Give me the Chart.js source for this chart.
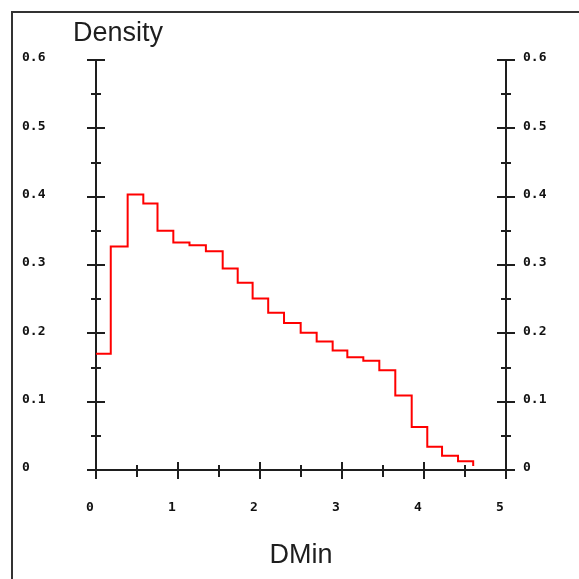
<!DOCTYPE html>
<html>
<head>
<meta charset="utf-8">
<script src="https://cdn.jsdelivr.net/npm/chart.js@4"></script>
<style>
  html, body { margin: 0; padding: 0; background: #fff; }
  #wrap { width: 579px; height: 579px; }
</style>
</head>
<body>
<div id="wrap"><canvas id="c" width="579" height="579"></canvas></div>
<script>
// DMin histogram: left edge of each bin and its density
const binEdges = [0, 0.18, 0.386, 0.577, 0.75, 0.943, 1.14, 1.34, 1.545, 1.728, 1.91,
                  2.1, 2.293, 2.496, 2.691, 2.886, 3.065, 3.26, 3.455, 3.65, 3.85,
                  4.04, 4.22, 4.415, 4.60];
const density = [0.17, 0.327, 0.403, 0.39, 0.35, 0.333, 0.329, 0.32, 0.295, 0.274,
                 0.251, 0.230, 0.215, 0.201, 0.188, 0.175, 0.165, 0.160, 0.146, 0.109,
                 0.063, 0.034, 0.021, 0.0127];
const endValue = 0.006;   // where the outline stops after the last bin

const xTickLabels = ['0', '1', '2', '3', '4', '5'];
const yTickLabels = ['0', '0.1', '0.2', '0.3', '0.4', '0.5', '0.6'];

const axisColor = '#1e1e1e';
const tickFont = { family: 'DejaVu Sans Mono', size: 13, weight: 'bold' };
const titleFont = { family: 'Liberation Sans', size: 27 };

// outline points: each bin starts at its left edge; the final point closes the last bin
const points = density.map((d, i) => ({ x: binEdges[i], y: d }));
points.push({ x: binEdges[binEdges.length - 1], y: endValue });

const isMajorY = v => Math.abs(v * 10 - Math.round(v * 10)) < 1e-6;
const isMajorX = v => Math.abs(v - Math.round(v)) < 1e-6;

// tick marks that cross the axis lines (long at labelled values, short in between)
const crossTicks = {
  id: 'crossTicks',
  afterDraw(chart) {
    const { ctx } = chart;
    const { x, y } = chart.scales;
    ctx.save();
    ctx.strokeStyle = axisColor;
    ctx.lineWidth = 2;
    ctx.beginPath();
    for (const t of y.ticks) {
      const py = Math.round(y.getPixelForValue(t.value));
      const h = isMajorY(t.value) ? 9 : 5;
      for (const px of [chart.chartArea.left, chart.chartArea.right]) {
        ctx.moveTo(px - h, py);
        ctx.lineTo(px + h, py);
      }
    }
    for (const t of x.ticks) {
      const px = Math.round(x.getPixelForValue(t.value));
      const py = chart.chartArea.bottom;
      const major = isMajorX(t.value);
      ctx.moveTo(px, py - (major ? 8 : 5));
      ctx.lineTo(px, py + (major ? 9 : 7));
    }
    ctx.stroke();
    ctx.restore();
  }
};

// outer frame and the "Density" heading above the left axis
const frame = {
  id: 'frame',
  beforeDraw(chart) {
    const { ctx } = chart;
    ctx.save();
    ctx.fillStyle = '#fff';
    ctx.fillRect(0, 0, chart.width, chart.height);
    ctx.strokeStyle = '#333';
    ctx.lineWidth = 2;
    ctx.strokeRect(12, 12, chart.width + 40, chart.height + 40);
    ctx.restore();
  },
  afterDraw(chart) {
    const { ctx } = chart;
    ctx.save();
    ctx.fillStyle = axisColor;
    ctx.font = `${titleFont.size}px "${titleFont.family}"`;
    ctx.textBaseline = 'alphabetic';
    ctx.textAlign = 'left';
    ctx.fillText('Density', chart.chartArea.left - 23, 41);
    ctx.restore();
  }
};

new Chart(document.getElementById('c'), {
  type: 'line',
  data: {
    datasets: [{
      data: points,
      borderColor: '#ff0000',
      borderWidth: 2,
      pointRadius: 0,
      fill: false,
      stepped: 'before',
      tension: 0
    }]
  },
  options: {
    responsive: false,
    animation: false,
    layout: { padding: { left: 22, top: 60, right: 0, bottom: 0 } },
    plugins: { legend: { display: false }, tooltip: { enabled: false } },
    scales: {
      x: {
        type: 'linear',
        position: 'bottom',
        min: 0, max: 5,
        grid: { display: false, drawTicks: false },
        border: { display: true, color: axisColor, width: 2 },
        ticks: {
          stepSize: 0.5,
          autoSkip: false,
          maxRotation: 0,
          padding: 30,
          labelOffset: -6,
          color: '#111',
          font: tickFont,
          callback: v => isMajorX(v) ? xTickLabels[Math.round(v)] : ''
        },
        title: {
          display: true,
          text: 'DMin',
          color: axisColor,
          font: titleFont,
          padding: { top: 0, bottom: 7 }
        },
        afterFit: s => { s.height = 109; }
      },
      y: {
        type: 'linear',
        position: 'left',
        min: 0, max: 0.6,
        grid: { display: false, drawTicks: false },
        border: { display: true, color: axisColor, width: 2 },
        ticks: {
          stepSize: 0.05,
          autoSkip: false,
          crossAlign: 'far',
          labelOffset: -2,
          color: '#111',
          font: tickFont,
          callback: v => isMajorY(v) ? yTickLabels[Math.round(v * 10)] : ''
        },
        afterFit: s => { s.width = 74; }
      },
      y2: {
        type: 'linear',
        position: 'right',
        min: 0, max: 0.6,
        grid: { display: false, drawTicks: false },
        border: { display: true, color: axisColor, width: 2 },
        ticks: {
          stepSize: 0.05,
          autoSkip: false,
          padding: 17,
          labelOffset: -2,
          color: '#111',
          font: tickFont,
          callback: v => isMajorY(v) ? yTickLabels[Math.round(v * 10)] : ''
        },
        afterFit: s => { s.width = 73; }
      }
    }
  },
  plugins: [frame, crossTicks]
});
</script>
</body>
</html>
